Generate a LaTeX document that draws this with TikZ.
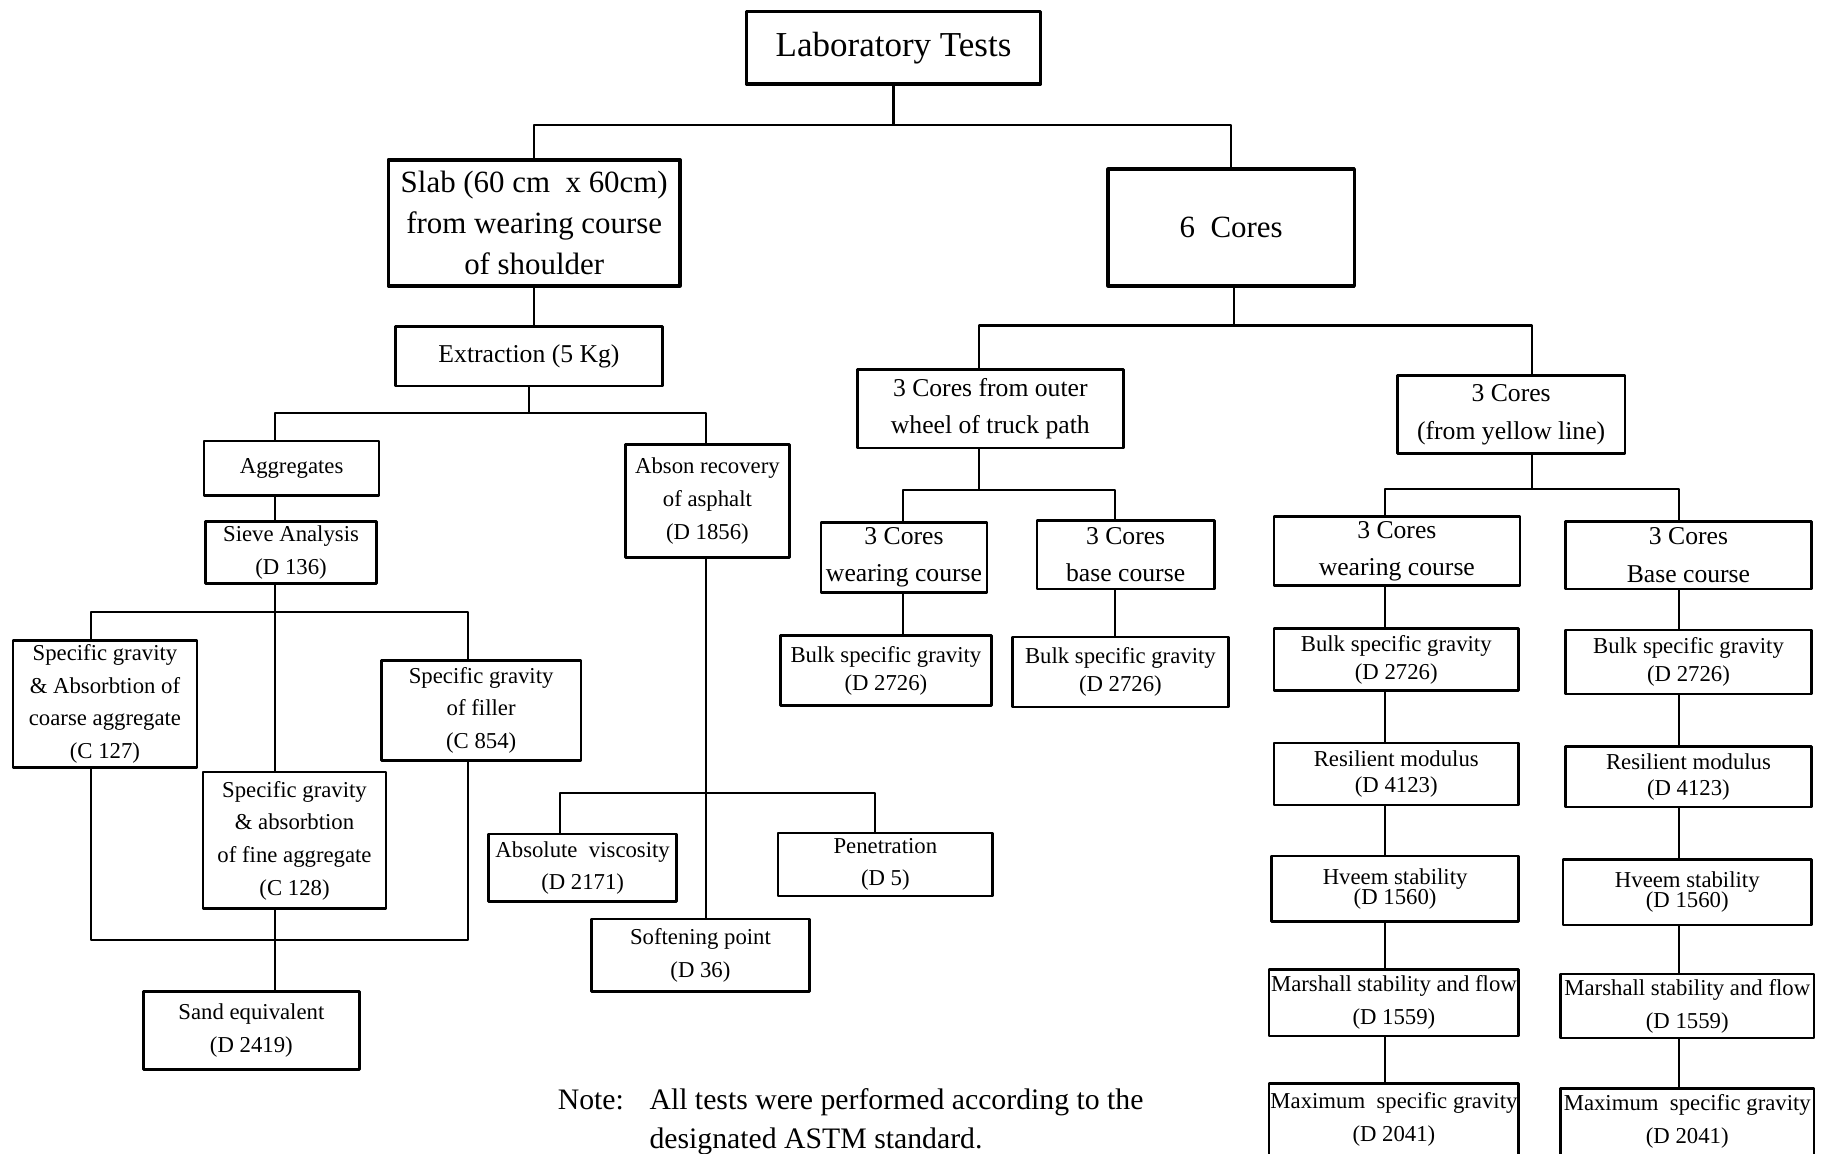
\documentclass[tikz,border=0pt]{standalone}
\usepackage{fontspec}
\setmainfont{Liberation Serif}
\begin{document}
\begin{tikzpicture}[x=1pt,y=-1pt,line join=round,line cap=round,
    box/.style={draw,line width=2.2pt,align=center,inner sep=0pt},
    bigbox/.style={box,line width=3pt},
    link/.style={line width=1.8pt},
    fTop/.style={font=\fontsize{30}{36}\selectfont},
    fBig/.style={font=\fontsize{26.5}{35}\selectfont},
    fMid/.style={font=\fontsize{22}{32}\selectfont},
    fSmall/.style={font=\fontsize{19.5}{28}\selectfont}]
\useasboundingbox (0,0) rectangle (1568,989);
\node[bigbox,fTop,minimum width=252,minimum height=62] (lab) at (766,41) {Laboratory Tests};
\node[bigbox,fBig,minimum width=250,minimum height=108] (slab) at (458,191) {Slab (60 cm\ \ x 60cm)\\from wearing course\\of shoulder};
\node[bigbox,fBig,minimum width=211,minimum height=100] (six) at (1055.5,195) {6\ \ Cores};
\node[box,fMid,minimum width=229,minimum height=51] (extr) at (453.5,305.5) {Extraction (5 Kg)};
\node[box,fSmall,minimum width=150,minimum height=47] (agg) at (250,401.5) {Aggregates};
\node[box,fSmall,minimum width=147,minimum height=53] (sieve) at (249.5,473.5) {Sieve Analysis\\(D 136)};
\node[box,fSmall,minimum width=158,minimum height=109] (coarse) at (90,603.5) {Specific gravity\\\& Absorbtion of\\coarse aggregate\\(C 127)};
\node[box,fSmall,minimum width=171,minimum height=86] (filler) at (412.5,609) {Specific gravity\\of filler\\(C 854)};
\node[box,fSmall,minimum width=157,minimum height=117] (fine) at (252.5,720.5) {Specific gravity\\\& absorbtion\\of fine aggregate\\(C 128)};
\node[box,fSmall,minimum width=185,minimum height=67] (sand) at (215.5,883.5) {Sand equivalent\\(D 2419)};
\node[box,fSmall,minimum width=141,minimum height=97] (abson) at (606.5,429.5) {Abson recovery\\of asphalt\\(D 1856)};
\node[box,fSmall,minimum width=161,minimum height=58] (visc) at (499.5,744) {Absolute\ \ viscosity\\(D 2171)};
\node[box,fSmall,minimum width=184,minimum height=54] (pen) at (759,741) {Penetration\\(D 5)};
\node[box,fSmall,minimum width=187,minimum height=62] (soft) at (600.5,819) {Softening point\\(D 36)};
\node[box,fMid,minimum width=228,minimum height=67] (outer) at (849,350.5) {3 Cores from outer\\wheel of truck path};
\node[box,fMid,minimum width=195,minimum height=67] (yellow) at (1295.5,355.5) {3 Cores\\(from yellow line)};
\node[box,fMid,minimum width=142,minimum height=60] (wearA) at (775,478) {3 Cores\\wearing course};
\node[box,fMid,minimum width=152,minimum height=59] (baseA) at (965,475.5) {3 Cores\\base course};
\node[box,fSmall,minimum width=181,minimum height=60] (bulkA) at (759.5,575) {Bulk specific gravity\\[-4pt](D 2726)};
\node[box,fSmall,minimum width=185,minimum height=60] (bulkB) at (960.5,576) {Bulk specific gravity\\[-4pt](D 2726)};
\node[box,fMid,minimum width=211,minimum height=59] (wearB) at (1197.5,472.5) {3 Cores\\wearing course};
\node[box,fMid,minimum width=211,minimum height=58] (baseB) at (1447.5,476) {3 Cores\\Base course};
\node[box,fSmall,minimum width=210,minimum height=53] (bulkC) at (1197,565.5) {Bulk specific gravity\\[-4pt](D 2726)};
\node[box,fSmall,minimum width=210,minimum height=53] (resC) at (1197,663.5) {Resilient modulus\\[-6pt](D 4123)};
\node[box,fSmall,minimum width=212,minimum height=56] (hvC) at (1196,762) {Hveem stability\\[-11pt](D 1560)};
\node[box,fSmall,minimum width=214,minimum height=57] (marC) at (1195,859.5) {Marshall stability and flow\\(D 1559)};
\node[box,fSmall,minimum width=214,minimum height=61] (maxC) at (1195,959.5) {Maximum\ \ specific gravity\\(D 2041)};
\node[box,fSmall,minimum width=211,minimum height=55] (bulkD) at (1447.5,567.5) {Bulk specific gravity\\[-4pt](D 2726)};
\node[box,fSmall,minimum width=211,minimum height=52] (resD) at (1447.5,666) {Resilient modulus\\[-6pt](D 4123)};
\node[box,fSmall,minimum width=213,minimum height=56] (hvD) at (1446.5,765) {Hveem stability\\[-11pt](D 1560)};
\node[box,fSmall,minimum width=217,minimum height=55] (marD) at (1446.5,862.5) {Marshall stability and flow\\(D 1559)};
\node[box,fSmall,minimum width=217,minimum height=57] (maxD) at (1446.5,961.5) {Maximum\ \ specific gravity\\(D 2041)};
\node[anchor=base west,inner sep=0pt,font=\fontsize{25.5}{34}\selectfont] (note) at (478,951)
    {\begin{tabular}[t]{@{}l@{\hspace{22pt}}l@{}}Note: & All tests were performed according to the\\ & designated ASTM standard.\end{tabular}};
\coordinate (sAgg) at (236,0);
\coordinate (sCoarse) at (78,0);
\coordinate (sFiller) at (401,0);
\coordinate (sAbson) at (605,0);
\coordinate (sVisc) at (480,0);
\coordinate (sPen) at (750,0);
\coordinate (sSix) at (1058,0);
\coordinate (sOuter) at (839,0);
\coordinate (sYellow) at (1313,0);
\coordinate (sWearA) at (774,0);
\coordinate (sBaseA) at (956,0);
\coordinate (sWearB) at (1187,0);
\coordinate (sBaseB) at (1439,0);
\coordinate (j0) at (766,107);
\coordinate (j1) at (454,354);
\coordinate (j2) at (236,525);
\coordinate (j3) at (236,806);
\coordinate (j4) at (605,680);
\coordinate (j5) at (1058,279);
\coordinate (j6) at (839,420);
\coordinate (j7) at (1313,419);
\draw[link] (lab.south) -- (j0);
\draw[link] (slab.north) |- (j0) -| (six.north);
\draw[link] (slab.south) -- (slab.south |- extr.north);
\draw[link] (extr.south) -- (extr.south |- j1);
\draw[link] (agg.north -| sAgg) |- (j1) -| (abson.north -| sAbson);
\draw[link] (agg.south -| sAgg) -- (sieve.north -| sAgg);
\draw[link] (sieve.south -| sAgg) -- (fine.north -| sAgg);
\draw[link] (coarse.north -| sCoarse) |- (j2) -| (filler.north -| sFiller);
\draw[link] (coarse.south -| sCoarse) |- (j3) -| (filler.south -| sFiller);
\draw[link] (fine.south -| sAgg) -- (sand.north -| sAgg);
\draw[link] (abson.south -| sAbson) -- (soft.north -| sAbson);
\draw[link] (visc.north -| sVisc) |- (j4) -| (pen.north -| sPen);
\draw[link] (six.south -| sSix) -- (j5);
\draw[link] (outer.north -| sOuter) |- (j5) -| (yellow.north -| sYellow);
\draw[link] (outer.south -| sOuter) -- (j6);
\draw[link] (wearA.north -| sWearA) |- (j6) -| (baseA.north -| sBaseA);
\draw[link] (wearA.south -| sWearA) -- (bulkA.north -| sWearA);
\draw[link] (baseA.south -| sBaseA) -- (bulkB.north -| sBaseA);
\draw[link] (yellow.south -| sYellow) -- (j7);
\draw[link] (wearB.north -| sWearB) |- (j7) -| (baseB.north -| sBaseB);
\foreach \a/\b in {wearB/bulkC,bulkC/resC,resC/hvC,hvC/marC,marC/maxC}
    \draw[link] (\a.south -| sWearB) -- (\b.north -| sWearB);
\foreach \a/\b in {baseB/bulkD,bulkD/resD,resD/hvD,hvD/marD,marD/maxD}
    \draw[link] (\a.south -| sBaseB) -- (\b.north -| sBaseB);
\end{tikzpicture}
\end{document}
